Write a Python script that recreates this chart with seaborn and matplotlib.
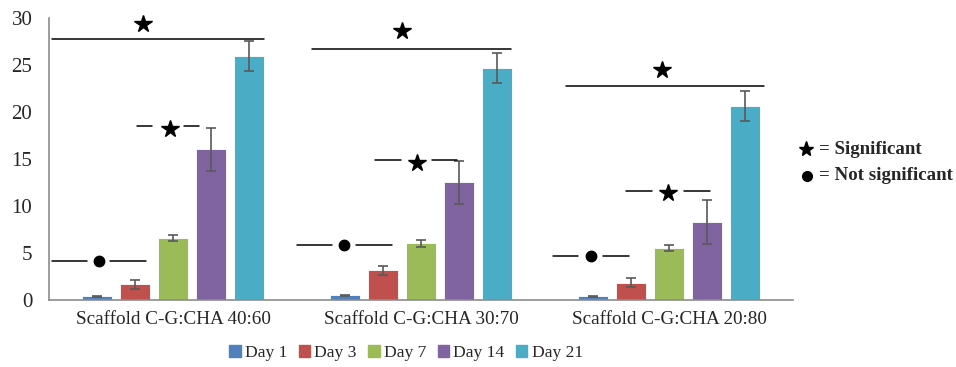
import matplotlib
matplotlib.use("Agg")
import matplotlib.pyplot as plt
import matplotlib.patches as mpatches
import pandas as pd
import seaborn as sns

##DATA: ------------------------------------------------------------------------------------------
scaffolds = ["Scaffold C-G:CHA 40:60", "Scaffold C-G:CHA 30:70", "Scaffold C-G:CHA 20:80"]
days = ["Day 1", "Day 3", "Day 7", "Day 14", "Day 21"]
day1 = [0.38, 0.50, 0.38]
day3 = [1.66, 3.15, 1.84]
day7 = [6.60, 6.06, 5.53]
day14 = [16.05, 12.54, 8.29]
day21 = [25.95, 24.65, 20.60]
err1 = [0.05, 0.05, 0.05]
err3 = [0.50, 0.50, 0.48]
err7 = [0.35, 0.37, 0.35]
err14 = [2.30, 2.30, 2.30]
err21 = [1.60, 1.60, 1.60]
palette = ["#4F81BD", "#C0504D", "#9BBB59", "#8064A2", "#4BACC6"]

#significance marks (line segments + symbols), in data coords:
sig_lines = [(-0.488, 0.367, 27.8), (-0.145, -0.085, 18.5), (0.044, 0.105, 18.5),
             (-0.488, -0.347, 4.1), (-0.254, -0.109, 4.1),
             (0.560, 1.363, 26.7), (0.815, 0.919, 14.9), (1.044, 1.145, 14.9),
             (0.500, 0.641, 5.87), (0.738, 0.883, 5.87),
             (1.585, 2.383, 22.77), (1.827, 1.931, 11.6), (2.060, 2.165, 11.6),
             (1.532, 1.633, 4.67), (1.734, 1.839, 4.67)]
sig_marks = [(-0.121, 29.4, "*"), (-0.012, 18.2, "*"), (-0.298, 4.1, "o"),
             (0.923, 28.6, "*"), (0.984, 14.6, "*"), (0.690, 5.87, "o"),
             (1.972, 24.5, "*"), (1.996, 11.4, "*"), (1.685, 4.67, "o")]

##PLOT: ------------------------------------------------------------------------------------------
values = [day1, day3, day7, day14, day21]
errs = [err1, err3, err7, err14, err21]
rows = []
for d, vals, es in zip(days, values, errs):
    for s, v, e in zip(scaffolds, vals, es):
        rows.append({"scaffold": s, "day": d, "value": v, "err": e})
df = pd.DataFrame(rows)

sns.set_style("white")
plt.rcParams["font.family"] = ["Liberation Serif", "DejaVu Sans"]

fig = plt.figure(figsize=(9.56, 3.67), dpi=100)
ax = fig.add_axes([49 / 956, 67 / 367, 744 / 956, (300 - 18) / 367])

sns.barplot(data=df, x="scaffold", y="value", hue="day", order=scaffolds, hue_order=days,
            palette=palette, width=0.766, gap=0.2, errorbar=None, saturation=1,
            edgecolor="white", linewidth=0.6, ax=ax)

#error bars on each bar:
for cont, d in zip(ax.containers, days):
    sub = df[df["day"] == d].set_index("scaffold").loc[scaffolds]
    xs = [p.get_x() + p.get_width() / 2 for p in cont.patches]
    ax.errorbar(xs, sub["value"], yerr=sub["err"], fmt="none", ecolor="#595959",
                elinewidth=1.2, capsize=3.5, capthick=1.2)

for x0, x1, y in sig_lines:
    ax.plot([x0, x1], [y, y], color="black", lw=1.1, clip_on=False)
for x, y, m in sig_marks:
    ax.plot(x, y, marker=m, color="black", markersize=13 if m == "*" else 7.5,
            linestyle="none", clip_on=False)

ax.set_xlim(-0.5, 2.5)
ax.set_ylim(0, 30)
ax.set_yticks(range(0, 31, 5))
ax.set_xlabel("")
ax.set_ylabel("")
ax.tick_params(axis="y", length=0, pad=12, labelsize=15)
ax.tick_params(axis="x", length=0, pad=8, labelsize=13.8)
for side in ["top", "right"]:
    ax.spines[side].set_visible(False)
for side in ["left", "bottom"]:
    ax.spines[side].set_color("#8C8C8C")
    ax.spines[side].set_linewidth(1.2)

#legend at bottom:
ax.legend_.remove()
handles = [mpatches.Patch(color=c, label=d) for c, d in zip(palette, days)]
fig.legend(handles=handles, loc="center", bbox_to_anchor=(406 / 956, 1 - 353 / 367), ncol=5,
           frameon=False, fontsize=12.6, handlelength=0.65, handleheight=0.65,
           handletextpad=0.25, columnspacing=0.65)

#significance key on the right:
fig.lines.append(plt.Line2D([806 / 956], [1 - 149 / 367], marker="*", markersize=11, color="black",
                            linestyle="none", transform=fig.transFigure))
fig.lines.append(plt.Line2D([807 / 956], [1 - 176 / 367], marker="o", markersize=7, color="black",
                            linestyle="none", transform=fig.transFigure))
fig.text(819 / 956, 1 - 149 / 367, "= Significant", fontsize=13.6, fontweight="bold", va="center")
fig.text(819 / 956, 1 - 176 / 367, "= Not significant", fontsize=13.6, fontweight="bold", va="center")

fig.savefig("out.png", dpi=100)
